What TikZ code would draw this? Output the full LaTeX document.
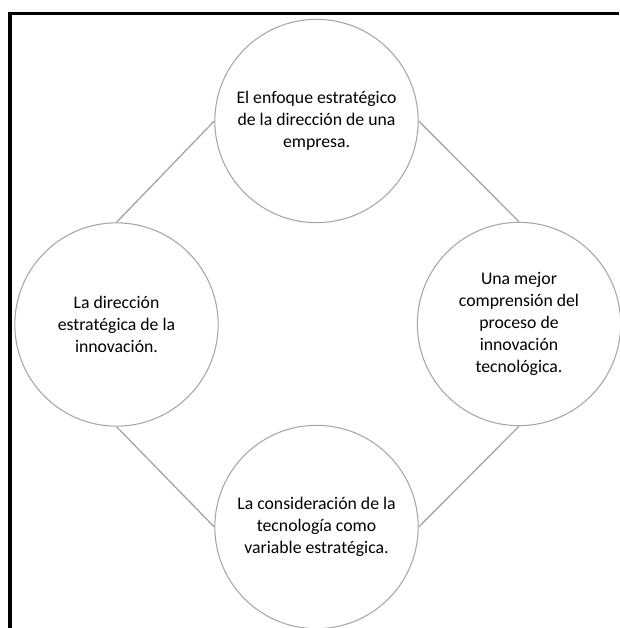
\documentclass[tikz,border=0pt]{standalone}
\usepackage{fontspec}
\setmainfont{Carlito}
\begin{document}
\begin{tikzpicture}[x=0.75pt,y=-0.75pt,
  bubble/.style={circle,draw=gray!70,line width=0.8pt,minimum size=152.5pt,inner sep=0pt,align=center,
    font=\fontsize{13.3}{16.5}\selectfont},
  link/.style={draw=gray!70,line width=1pt},
  frame/.style={draw=black,line width=2.4pt}]
\useasboundingbox (0,0) rectangle (619,628);
\draw[frame] (10,628) -- (10,13.5) -- (619,13.5);
\node[bubble] (top) at (316.5,121) {El enfoque estratégico\\de la dirección de una\\empresa.};
\node[bubble] (left) at (116.5,324.5) {La dirección\\estratégica de la\\innovación.};
\node[bubble] (right) at (519,324) {Una mejor\\comprensión del\\proceso de\\innovación\\tecnológica.};
\node[bubble] (bot) at (316.5,527) {La consideración de la\\tecnología como\\variable estratégica.};
\draw[link] (top.west) -- (left.north);
\draw[link] (top.east) -- (right.north);
\draw[link] (left.south) -- (bot.west);
\draw[link] (right.south) -- (bot.east);
\end{tikzpicture}
\end{document}
